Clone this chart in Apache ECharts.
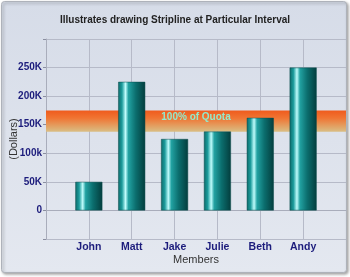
<!DOCTYPE html>
<html>
<head>
<meta charset="utf-8">
<script src="https://cdn.jsdelivr.net/npm/echarts@6/dist/echarts.min.js"></script>
<style>
html,body{margin:0;padding:0;background:#ffffff;}
#c{width:350px;height:277px;}
</style>
</head>
<body>
<div id="c"></div>
<script>
var titleText = 'Illustrates drawing Stripline at Particular Interval';
var categories = ['John', 'Matt', 'Jake', 'Julie', 'Beth', 'Andy'];
var sales = [50000, 225000, 125000, 138000, 162000, 250000];
var stripRange = [137500, 175000];
var stripLabel = '100% of Quota';
var yTickValues = [0, 50000, 100000, 150000, 200000, 250000];
var yTickLabels = ['0', '50K', '100k', '150K', '200K', '250K'];
var xAxisName = 'Members';
var yAxisName = '(Dollars)';

var axisCats = [''].concat(categories).concat(['']);
var barData = [null].concat(sales).concat([null]);

var chart = echarts.init(document.getElementById('c'), null, {renderer: 'canvas'});
var barGrad = new echarts.graphic.LinearGradient(0, 0, 1, 0, [
  {offset: 0, color: '#0c6a6a'},
  {offset: 0.14, color: '#1c9c9c'},
  {offset: 0.27, color: '#bffcfc'},
  {offset: 0.38, color: '#22a2a2'},
  {offset: 0.65, color: '#0b6e6e'},
  {offset: 1, color: '#033d3d'}
]);
var stripGrad = new echarts.graphic.LinearGradient(0, 0, 0, 1, [
  {offset: 0, color: '#ef5b1d'},
  {offset: 0.35, color: '#f07432'},
  {offset: 1, color: '#d9bf85'}
]);

chart.setOption({
  animation: false,
  backgroundColor: 'transparent',
  graphic: [{
    type: 'rect', z: -10,
    shape: {x: 1.5, y: 1.5, width: 345, height: 271, r: 3},
    style: {
      fill: new echarts.graphic.LinearGradient(0, 0, 0, 1, [
        {offset: 0, color: '#d6dce8'},
        {offset: 1, color: '#e4e8f0'}
      ]),
      stroke: '#aeb2ba', lineWidth: 1,
      shadowBlur: 3, shadowOffsetX: 1.5, shadowOffsetY: 1.5, shadowColor: 'rgba(0,0,0,0.35)'
    }
  }],
  title: {
    text: titleText, left: 'center', top: 10,
    textStyle: {fontFamily: 'Liberation Sans, Arial', fontSize: 10, fontWeight: 'bold', color: '#222222'}
  },
  grid: {left: 46, right: 4, top: 39, bottom: 38, containLabel: false, outerBoundsMode: 'none'},
  xAxis: {
    type: 'category', data: axisCats, boundaryGap: false,
    name: xAxisName, nameLocation: 'middle', nameGap: 15, nameMoveOverlap: false,
    nameTextStyle: {fontFamily: 'Liberation Sans, Arial', fontSize: 11, color: '#333333'},
    axisLine: {show: true, lineStyle: {color: '#a9adbb', width: 1}},
    axisTick: {show: false},
    axisLabel: {
      interval: 0, margin: 3,
      fontFamily: 'Liberation Sans, Arial', fontSize: 10.5, fontWeight: 'bold', color: '#1c1c7c'
    },
    splitLine: {show: true, interval: function (i) { return i < axisCats.length - 1; }, lineStyle: {color: '#b6bac8', width: 1}}
  },
  yAxis: {
    type: 'value', min: -50000, max: 300000, interval: 50000,
    name: yAxisName, nameLocation: 'middle', nameGap: 27, nameRotate: 90, nameMoveOverlap: false,
    nameTextStyle: {fontFamily: 'Liberation Sans, Arial', fontSize: 11, color: '#333333'},
    axisLine: {show: true, lineStyle: {color: '#a9adbb', width: 1}},
    axisTick: {show: true, length: 3, lineStyle: {color: '#8a8ea0'}},
    axisLabel: {
      margin: 4,
      fontFamily: 'Liberation Sans, Arial', fontSize: 10, fontWeight: 'bold', color: '#1c1c7c',
      formatter: function (v) {
        var i = yTickValues.indexOf(v);
        return i >= 0 ? yTickLabels[i] : '';
      }
    },
    splitLine: {show: true, lineStyle: {color: '#b6bac8', width: 1}}
  },
  series: [{
    type: 'line', data: [], z: 1, silent: true,
    markArea: {
      silent: true,
      itemStyle: {color: stripGrad},
      label: {
        show: true, position: 'inside', formatter: stripLabel,
        fontFamily: 'Liberation Sans, Arial', fontSize: 10, fontWeight: 'bold',
        color: '#94eacb', offset: [0, -4]
      },
      data: [[{yAxis: stripRange[0]}, {yAxis: stripRange[1]}]]
    }
  }, {
    type: 'bar', data: barData, z: 3, barWidth: 27,
    itemStyle: {color: barGrad, borderColor: '#0a4a4a', borderWidth: 0.5}
  }]
});
</script>
</body>
</html>
